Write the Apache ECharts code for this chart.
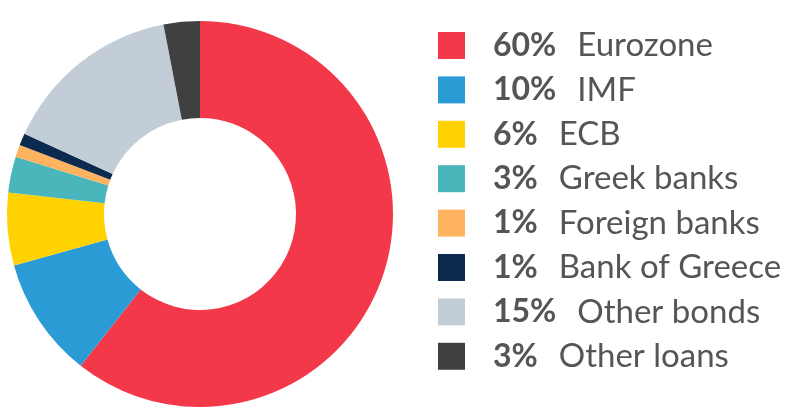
<!DOCTYPE html>
<html>
<head>
<meta charset="utf-8">
<script src="https://cdn.jsdelivr.net/npm/echarts@6/dist/echarts.min.js"></script>
<style>html,body{margin:0;padding:0;background:#fff;}#c{width:788px;height:416px;}</style>
</head>
<body>
<div id="c"></div>
<script>
const categories = ['Eurozone', 'IMF', 'ECB', 'Greek banks', 'Foreign banks', 'Bank of Greece', 'Other bonds', 'Other loans'];
const values = [60, 10, 6, 3, 1, 1, 15, 3];
const pctLabels = ['60%', '10%', '6%', '3%', '1%', '1%', '15%', '3%'];
const colors = ['#F23849', '#2A9BD5', '#FFD200', '#4AB5BA', '#FDB360', '#0C2A4E', '#C2CDD7', '#404040'];

const chart = echarts.init(document.getElementById('c'), null, {renderer: 'canvas'});
const pctMap = {};
categories.forEach((c, i) => pctMap[c] = pctLabels[i]);

chart.setOption({
  animation: false,
  color: colors,
  legend: {
    orient: 'vertical',
    left: 438,
    top: 29,
    padding: 0,
    itemWidth: 27,
    itemHeight: 27,
    itemGap: 11.4,
    icon: 'rect',
    data: categories,
    formatter: name => '{p|' + pctMap[name] + '}{n|' + name + '}',
    textStyle: {
      lineHeight: 33,
      rich: {
        p: {fontFamily: 'Lato', fontWeight: 'bold', fontSize: 32, lineHeight: 33, color: '#555555', padding: [0, 21, 0, 23]},
        n: {fontFamily: 'Lato', fontSize: 33, lineHeight: 33, color: '#555555'}
      }
    }
  },
  series: [{
    type: 'pie',
    center: [200, 214],
    radius: [96, 193],
    startAngle: 90,
    clockwise: true,
    label: {show: false},
    labelLine: {show: false},
    emphasis: {disabled: true},
    itemStyle: {borderWidth: 0},
    data: categories.map((c, i) => ({name: c, value: values[i]}))
  }]
});
</script>
</body>
</html>
